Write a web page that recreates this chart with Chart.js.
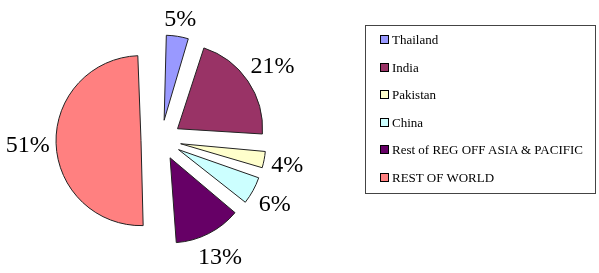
<!DOCTYPE html>
<html>
<head>
<meta charset="utf-8">
<script src="https://cdn.jsdelivr.net/npm/chart.js@4.4.1/dist/chart.umd.min.js"></script>
<style>
  html, body { margin: 0; padding: 0; background: #fff; }
  #wrap { position: relative; width: 599px; height: 273px; }
  #chart { position: absolute; left: 0; top: 0; }
  #legend {
    position: absolute; left: 365px; top: 25px; width: 229px; height: 167px;
    border: 1px solid #444; box-sizing: content-box;
    font-family: "Liberation Serif", "Times New Roman", serif; font-size: 13px; color: #000;
  }
  .item { position: absolute; left: 14px; height: 16px; line-height: 16px; white-space: nowrap; }
  .sw { display: inline-block; width: 7px; height: 7px; border: 1px solid #000; margin-right: 3px; vertical-align: 0px; }
</style>
</head>
<body>
<div id="wrap">
  <canvas id="chart" width="599" height="273"></canvas>
  <div id="legend"></div>
</div>
<script>
// data
const categories = ["Thailand", "India", "Pakistan", "China", "Rest of REG OFF ASIA & PACIFIC", "REST OF WORLD"];
const shares = [5, 21, 4, 6, 13, 51];
const sliceColors = ["#9999FF", "#993366", "#FFFFCC", "#CCFFFF", "#660066", "#FF8080"];

// legend (html)
const legend = document.getElementById("legend");
categories.forEach((c, i) => {
  const d = document.createElement("div");
  d.className = "item";
  d.style.top = (6 + i * 27.6) + "px";
  d.innerHTML = `<span class="sw" style="background:${sliceColors[i]}"></span>${c}`;
  legend.appendChild(d);
});

// chart.js v4 moves an arc by offset/4 and also grows its radius; keep the
// radius the same for every slice so it looks like the excel exploded pie
const EXPLODE = 80;
const keepRadius = {
  id: "keepRadius",
  beforeDatasetsDraw(chart) {
    const meta = chart.getDatasetMeta(0);
    const R = meta.controller.outerRadius;
    const off = EXPLODE / 4;
    meta.data.forEach((arc) => {
      const fix = 1 - Math.sin(Math.min(Math.PI, arc.circumference || 0));
      arc.outerRadius = R - off * fix;
    });
  }
};

// percent labels outside the exploded slices
const pctLabels = {
  id: "pctLabels",
  afterDatasetsDraw(chart) {
    const ctx = chart.ctx;
    const meta = chart.getDatasetMeta(0);
    const ds = chart.data.datasets[0];
    const R = meta.controller.outerRadius;
    ctx.save();
    ctx.font = "24px 'Liberation Serif', 'Times New Roman', serif";
    ctx.fillStyle = "#000";
    ctx.textAlign = "center";
    ctx.textBaseline = "middle";
    meta.data.forEach((arc, i) => {
      const mid = (arc.startAngle + arc.endAngle) / 2;
      const txt = ds.data[i] + "%";
      const hw = ctx.measureText(txt).width / 2, hh = 10;
      const cx = Math.cos(mid), sy = Math.sin(mid);
      const dist = R + EXPLODE / 4 + 6 + Math.abs(cx) * hw + Math.abs(sy) * hh;
      ctx.fillText(txt, arc.x + cx * dist, arc.y + sy * dist + 2);
    });
    ctx.restore();
  }
};

new Chart(document.getElementById("chart"), {
  type: "pie",
  data: {
    labels: categories,
    datasets: [{
      data: shares,
      backgroundColor: sliceColors,
      borderColor: "#222",
      borderWidth: 1,
      offset: EXPLODE,
    }],
  },
  options: {
    responsive: false,
    animation: false,
    radius: 85,
    layout: { padding: { left: 0, right: 277, top: 7, bottom: 0 } },
    plugins: {
      legend: { display: false },
      tooltip: { enabled: false },
    },
  },
  plugins: [keepRadius, pctLabels],
});
</script>
</body>
</html>
